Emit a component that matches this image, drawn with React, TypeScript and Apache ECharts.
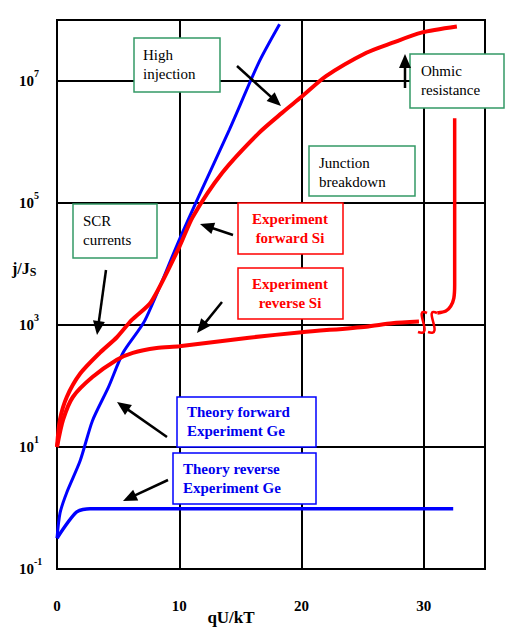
import React, { useEffect, useRef } from "react";
import * as echarts from "echarts";

const FONT = "'Liberation Serif', 'Times New Roman', serif";

// qU/kT against j/js
const theoryForward = [
  [0, 0.32], [0.25, 0.83], [0.8, 1.8], [1.9, 6], [2.9, 27], [4.2, 95],
  [5.4, 350], [7.2, 1200], [10, 2.5e4], [11.6, 1.3e5], [14.1, 1.6e6],
  [16.5, 2e7], [18.2, 8.5e7],
];
const theoryReverse = [[0, 0.32], [1.6, 0.86], [2.7, 0.97], [32.4, 0.97]];
const expForward = [
  [0, 10], [0.24, 28], [0.8, 66], [1.9, 160], [3.5, 350], [4.9, 630],
  [6.1, 1200], [7.7, 2400], [10, 1.9e4], [11.1, 5.9e4], [13.5, 3.1e5],
  [16.5, 1.4e6], [18.4, 3e6], [20, 5.5e6], [22, 1.2e7], [25.3, 2.9e7],
  [27.4, 4.2e7], [29.8, 6.2e7], [32.7, 7.8e7],
];
const expReverse = [
  [0, 10], [0.5, 28], [1.3, 66], [2.9, 140], [4.9, 270], [6.2, 350],
  [8.15, 420], [10, 450], [15.7, 620], [20, 760], [25.3, 940],
  [27.4, 1070], [29.6, 1140],
];
const breakdown = [
  [31.1, 1575], [31.8, 1700], [32.2, 2040], [32.45, 2750], [32.52, 4570],
  [32.52, 2.45e6],
];

const xTicks = [0, 10, 20, 30];
const yExponents = [-1, 1, 3, 5, 7];

function arrow(x1: number, y1: number, x2: number, y2: number) {
  const dx = x2 - x1;
  const dy = y2 - y1;
  const len = Math.hypot(dx, dy);
  const ux = dx / len;
  const uy = dy / len;
  const hl = 14;
  const hw = 6;
  const bx = x2 - ux * hl;
  const by = y2 - uy * hl;
  return [
    {
      type: "line",
      z: 110,
      shape: { x1, y1, x2: bx + ux * 2, y2: by + uy * 2 },
      style: { stroke: "#000", lineWidth: 2.5 },
    },
    {
      type: "polygon",
      z: 110,
      shape: {
        points: [
          [x2, y2],
          [bx - uy * hw, by + ux * hw],
          [bx + uy * hw, by - ux * hw],
        ],
      },
      style: { fill: "#000" },
    },
  ];
}

// framed note, text set through a rich token so the serif face sticks
function box(
  x: number, y: number, w: number, h: number, stroke: string,
  lines: string[], tx: number, ty: number, color: string, bold: boolean,
  align: string = "left",
) {
  return [
    {
      type: "rect",
      z: 100,
      shape: { x, y, width: w, height: h },
      style: { fill: "#fff", stroke, lineWidth: 1.5 },
    },
    ...lines.map((t, i) => ({
      type: "text",
      z: 101,
      style: {
        text: `{t|${t}}`,
        x: tx,
        y: ty + i * 19,
        align,
        verticalAlign: "middle",
        rich: {
          t: {
            fontFamily: FONT,
            fontSize: 15,
            fontWeight: bold ? "bold" : "normal",
            fill: color,
            lineHeight: 19,
          },
        },
      },
    })),
  ];
}

// S-shaped break mark
function squiggle(x0: number) {
  return {
    type: "bezierCurve",
    z: 105,
    shape: {
      x1: x0 + 9, y1: 313,
      cpx1: x0 - 6, cpy1: 306,
      cpx2: x0 + 17, cpy2: 338,
      x2: x0, y2: 332,
    },
    style: { stroke: "#ff0000", lineWidth: 2.5, fill: "none" },
  };
}

export default function App() {
  const chartRef = useRef<HTMLDivElement>(null);

  useEffect(() => {
    if (!chartRef.current) return;
    const chart = echarts.init(chartRef.current, null, { renderer: "svg" });

    const green = "#339966";
    const graphic: any[] = [
      ...box(134, 38, 86, 54, green, ["High", "injection"], 143, 55, "#000", false),
      ...box(73, 204, 84, 54, green, ["SCR", "currents"], 83, 221, "#000", false),
      ...box(410, 54, 94, 54, green, ["Ohmic", "resistance"], 421, 71, "#000", false),
      ...box(309, 146, 106, 50, green, ["Junction", "breakdown"], 319, 163, "#000", false),
      ...box(238, 203, 105, 51, "#ff0000", ["Experiment", "forward Si"], 290, 219, "#ff0000", true, "center"),
      ...box(238, 268, 105, 51, "#ff0000", ["Experiment", "reverse Si"], 290, 284, "#ff0000", true, "center"),
      ...box(177, 397, 139, 50, "#0000ff", ["Theory forward", "Experiment Ge"], 187, 412, "#0000ee", true),
      ...box(173, 453, 143, 51, "#0000ff", ["Theory reverse", "Experiment Ge"], 183, 469, "#0000ee", true),
      ...arrow(237, 66, 281, 106),
      ...arrow(405, 88, 405, 54),
      ...arrow(106, 270, 97, 335),
      ...arrow(233, 235, 200, 224),
      ...arrow(222, 302, 197, 333),
      ...arrow(167, 437, 117, 402),
      ...arrow(168, 480, 123, 501),
      squiggle(418),
      squiggle(428),
      {
        type: "text",
        z: 101,
        style: {
          text: "{a|j/J}{b|S}",
          x: 12,
          y: 268,
          verticalAlign: "middle",
          rich: {
            a: { fontFamily: FONT, fontSize: 16, fontWeight: "bold", fill: "#000", lineHeight: 20 },
            b: { fontFamily: FONT, fontSize: 12, fontWeight: "bold", fill: "#000", lineHeight: 14, verticalAlign: "bottom" },
          },
        },
      },
      {
        type: "text",
        z: 101,
        style: {
          text: "{t|qU/kT}",
          x: 231,
          y: 617,
          align: "center",
          verticalAlign: "middle",
          rich: {
            t: { fontFamily: FONT, fontSize: 17, fontWeight: "bold", fill: "#000" },
          },
        },
      },
    ];

    const line = (name: string, data: number[][], color: string, width: number) => ({
      name,
      type: "line",
      data,
      symbol: "none",
      smooth: 0.25,
      lineStyle: { color, width },
      z: 3,
    });

    chart.setOption({
      animation: false,
      backgroundColor: "#fff",
      grid: {
        left: 57,
        top: 20,
        right: 31,
        bottom: 65,
        show: true,
        borderColor: "#000",
        borderWidth: 2,
      },
      xAxis: {
        type: "value",
        min: 0,
        max: 35,
        interval: 10,
        axisLine: { show: false },
        axisTick: { show: false },
        splitLine: { show: true, lineStyle: { color: "#000", width: 2 } },
        axisLabel: {
          margin: 29,
          showMaxLabel: false,
          fontFamily: FONT,
          fontSize: 15,
          fontWeight: "bold",
          color: "#000",
          formatter: (v: number) => (xTicks.includes(v) ? String(v) : ""),
        },
      },
      yAxis: {
        type: "log",
        logBase: 10,
        min: 0.1,
        max: 1e8,
        interval: 2,
        axisLine: { show: false },
        axisTick: { show: false },
        splitLine: { show: true, lineStyle: { color: "#000", width: 2 } },
        axisLabel: {
          margin: 38,
          align: "left",
          formatter: (v: number) => {
            const e = Math.round(Math.log10(v));
            return yExponents.includes(e) ? `{b|10}{s|${e}}` : "";
          },
          rich: {
            b: { fontFamily: FONT, fontSize: 15, fontWeight: "bold", color: "#000", lineHeight: 26 },
            s: { fontFamily: FONT, fontSize: 10, fontWeight: "bold", color: "#000", lineHeight: 6, verticalAlign: "top" },
          },
        },
      },
      series: [
        line("Theory reverse", theoryReverse, "#0000ff", 3.5),
        line("Theory forward", theoryForward, "#0000ff", 3),
        line("Experiment reverse Si", expReverse, "#ff0000", 4),
        line("Breakdown", breakdown, "#ff0000", 3.5),
        line("Experiment forward Si", expForward, "#ff0000", 4),
      ],
      graphic,
    });

    return () => chart.dispose();
  }, []);

  return (
    <div
      ref={chartRef}
      style={{ position: "fixed", left: 0, top: 0, width: 516, height: 634, background: "#fff" }}
    />
  );
}
